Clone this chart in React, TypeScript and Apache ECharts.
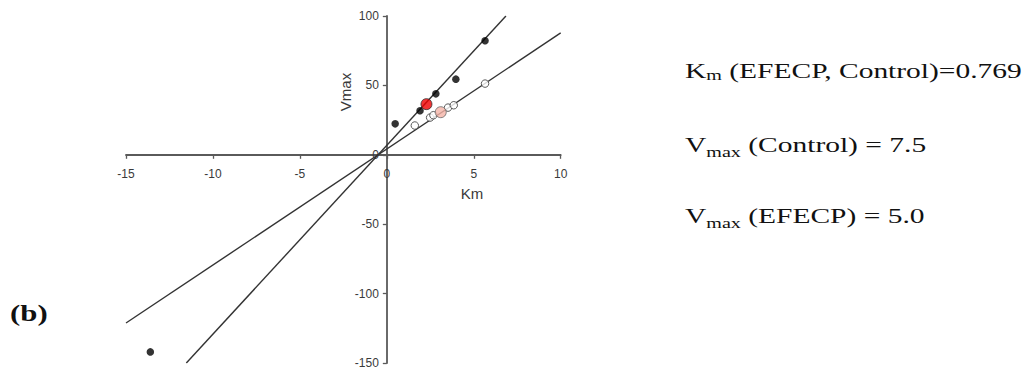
import React, { useEffect, useRef } from "react";
import * as echarts from "echarts";

// Data (direct linear / Km–Vmax plot)
const controlPoints: [number, number][] = [
  [0.48, 22.3],
  [1.91, 31.7],
  [2.82, 43.9],
  [3.97, 54.5],
  [5.65, 82.2],
  [-13.6, -142],
];
const controlHighlight: [number, number][] = [[2.28, 36.5]];
const efecpPoints: [number, number][] = [
  [1.61, 21.1],
  [2.49, 26.8],
  [2.68, 28.5],
  [3.52, 34.0],
  [3.85, 35.7],
  [5.65, 51.3],
];
const efecpHighlight: [number, number][] = [[3.1, 30.7]];
const controlFit: [number, number][] = [
  [-11.53, -150],
  [6.85, 100],
];
const efecpFit: [number, number][] = [
  [-15, -121.2],
  [10, 87.8],
];
const xTicks = { min: -15, max: 10, interval: 5 };
const yTicks = { min: -150, max: 100, interval: 50 };
const axisNames = { x: "Km", y: "Vmax" };
const notes = [
  { main: "K", sub: "m", rest: " (EFECP, Control)=0.769" },
  { main: "V", sub: "max", rest: " (Control) = 7.5" },
  { main: "V", sub: "max", rest: " (EFECP) = 5.0" },
];
const panelLabel = "(b)";

export default function App() {
  const ref = useRef<HTMLDivElement>(null);
  useEffect(() => {
    if (!ref.current) return;
    const chart = echarts.init(ref.current, null, { renderer: "svg" });
    const axisColor = "#5a5a5a";
    const labelColor = "#3a3a3a";
    const sans = "'Liberation Sans', Arial, sans-serif";
    const serif = "'Liberation Serif', 'Times New Roman', serif";

    const gLeft = 126;
    const gTop = 16;
    const gWidth = 434.7;
    const gHeight = 347;
    // place axes through the origin with offsets (layout only)
    const zeroY = gTop + (gHeight * yTicks.max) / (yTicks.max - yTicks.min);
    const zeroX = gLeft + (gWidth * (0 - xTicks.min)) / (xTicks.max - xTicks.min);
    const xOffset = zeroY - (gTop + gHeight);
    const yOffset = gLeft - zeroX;

    const subPad = [5, 2, 2];
    const tops = [57.5, 131.5, 202.5];

    chart.setOption({
      animation: false,
      backgroundColor: "#fff",
      grid: {
        left: gLeft,
        top: gTop,
        width: gWidth,
        height: gHeight,
        outerBoundsMode: "none",
        containLabel: false,
      },
      xAxis: {
        type: "value",
        position: "bottom",
        offset: xOffset,
        min: xTicks.min,
        max: xTicks.max,
        interval: xTicks.interval,
        axisLine: { onZero: false, lineStyle: { color: axisColor, width: 1.8 } },
        axisTick: { show: true, length: 4, lineStyle: { color: axisColor, width: 1.3 } },
        axisLabel: { color: labelColor, fontSize: 12, fontFamily: sans, margin: 13 },
        splitLine: { show: false },
      },
      yAxis: {
        type: "value",
        position: "left",
        offset: yOffset,
        min: yTicks.min,
        max: yTicks.max,
        interval: yTicks.interval,
        axisLine: { show: true, onZero: false, lineStyle: { color: axisColor, width: 1.8 } },
        axisTick: { show: true, length: 4, lineStyle: { color: axisColor, width: 1.3 } },
        axisLabel: { color: labelColor, fontSize: 12, fontFamily: sans, margin: 8 },
        splitLine: { show: false },
      },
      series: [
        {
          type: "line",
          data: controlFit,
          symbol: "none",
          lineStyle: { color: "#333", width: 1.4 },
          z: 2,
        },
        {
          type: "line",
          data: efecpFit,
          symbol: "none",
          lineStyle: { color: "#333", width: 1.4 },
          z: 2,
        },
        {
          type: "scatter",
          data: controlPoints,
          symbol: "circle",
          symbolSize: 7.5,
          itemStyle: { color: "#000" },
          z: 3,
        },
        {
          type: "scatter",
          data: efecpPoints,
          symbol: "circle",
          symbolSize: 7.5,
          itemStyle: { color: "#fff", borderColor: "#333", borderWidth: 1 },
          z: 3,
        },
        {
          type: "scatter",
          data: controlHighlight,
          symbol: "circle",
          symbolSize: 11,
          itemStyle: { color: "#f00000", borderColor: "#333", borderWidth: 1 },
          z: 4,
        },
        {
          type: "scatter",
          data: efecpHighlight,
          symbol: "circle",
          symbolSize: 11,
          itemStyle: { color: "#f5b4a8", borderColor: "#666", borderWidth: 1 },
          z: 4,
        },
      ],
      graphic: [
        {
          type: "text",
          x: 472,
          y: 193,
          style: {
            text: axisNames.x,
            fill: labelColor,
            font: `15px ${sans}`,
            align: "center",
            verticalAlign: "middle",
          },
        },
        {
          type: "text",
          x: 345,
          y: 92,
          rotation: Math.PI / 2,
          style: {
            text: axisNames.y,
            fill: labelColor,
            font: `15px ${sans}`,
            align: "center",
            verticalAlign: "middle",
          },
        },
        {
          type: "text",
          x: 10,
          y: 313,
          scaleX: 1.34,
          style: {
            text: panelLabel,
            fill: "#111",
            font: `bold 23px ${serif}`,
            align: "left",
            verticalAlign: "middle",
          },
        },
        ...notes.map((n, i) => ({
          type: "text",
          x: 685,
          y: tops[i],
          scaleX: 1.34,
          style: {
            text: `{a|${n.main}}{s|${n.sub}}{a|${n.rest}}`,
            align: "left",
            verticalAlign: "top",
            rich: {
              a: {
                fontSize: 22,
                fontFamily: serif,
                fill: "#111",
                lineHeight: 30,
                verticalAlign: "bottom",
                padding: [0, 0, 6, 0],
              },
              s: {
                fontSize: 15,
                fontFamily: serif,
                fill: "#111",
                lineHeight: 30,
                verticalAlign: "bottom",
                padding: [0, 0, subPad[i], 0],
              },
            },
          },
        })),
      ],
    });
    return () => chart.dispose();
  }, []);
  return (
    <div
      ref={ref}
      style={{ position: "fixed", left: 0, top: 0, width: 1032, height: 370 }}
    />
  );
}
